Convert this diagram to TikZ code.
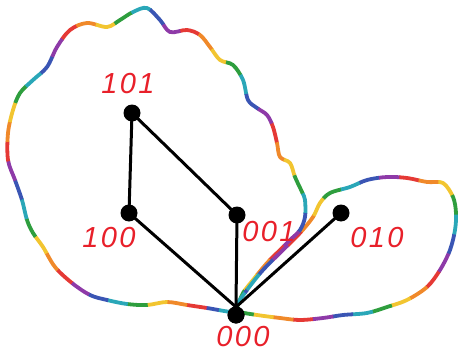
\documentclass[tikz,border=0pt]{standalone}
\usepackage{fontspec}
\setmainfont{Liberation Sans}
\newfontfamily\handfont{Liberation Sans}[LetterSpace=8]
\definecolor{cR}{HTML}{E53935}
\definecolor{cO}{HTML}{F0892A}
\definecolor{cY}{HTML}{F2C530}
\definecolor{cG}{HTML}{2E9E3E}
\definecolor{cT}{HTML}{2AA7B8}
\definecolor{cB}{HTML}{3A55B4}
\definecolor{cP}{HTML}{8E3AA8}
\definecolor{labred}{HTML}{E8202A}
\begin{document}
\begin{tikzpicture}[x=1pt,y=-1pt,
  dot/.style={circle,fill=black,inner sep=0pt,minimum size=17pt},
  edge/.style={line width=3pt},
  lab/.style={text=labred,font=\handfont\itshape\fontsize{29}{29}\selectfont},
  rainbow/.style={line width=3.8pt,line cap=butt,line join=round}]
\useasboundingbox (0,0) rectangle (458,353);
\foreach \c [count=\i from 0] in {cR,cO,cY,cG,cT,cB,cP}{
  \pgfmathsetmacro{\ph}{140-20*\i}
  \draw[rainbow,color=\c,dash pattern=on 20.5pt off 119.5pt,dash phase=\ph pt]
    plot[smooth cycle,tension=0.55] coordinates {
    (233,312) (207,308) (187,305) (167,302) (147,305) (127,304) (107,300)
    (90,295) (72,283) (55,267) (43,247) (33,233) (27,220) (22,200) (15,180)
    (8,160) (8,133) (13,110) (20,93) (33,80) (47,67) (57,47) (70,30) (87,23)
    (107,27) (120,20) (133,12) (147,8) (160,20) (170,32) (187,30) (200,35)
    (210,47) (220,60) (233,65) (243,80) (248,100) (257,108) (267,115)
    (273,127) (277,143) (280,157) (290,163) (295,177) (302,192) (305,200)
    (305,217) (300,230) (290,240) (280,250) (267,263) (253,280) (243,293)
    (237,307)};
  \pgfmathsetmacro{\phb}{140-20*mod(\i+3,7)}
  \draw[rainbow,color=\c,dash pattern=on 20.5pt off 119.5pt,dash phase=\phb pt]
    plot[smooth cycle,tension=0.55] coordinates {
    (235,308) (247,290) (263,270) (283,250) (300,233) (313,217) (320,203)
    (330,193) (350,187) (367,180) (387,177) (407,178) (427,182) (443,183)
    (453,197) (456,213) (455,230) (450,250) (440,270) (427,287) (407,300)
    (387,307) (367,313) (343,315) (323,318) (300,320) (280,318) (257,315)
    (240,312)};
}
\node[dot] (n101) at (132,113) {};
\node[dot] (n100) at (129,213) {};
\node[dot] (n001) at (237,215) {};
\node[dot] (n010) at (341,213) {};
\node[dot] (n000) at (236,315) {};
\coordinate (m) at (236,307);
\draw[edge] (n101.center) -- (n100.center);
\draw[edge] (n101.center) -- (n001.center);
\draw[edge] (n100.center) -- (m);
\draw[edge] (n001.center) -- (m);
\draw[edge] (n010.center) -- (m);
\node[dot] at (n000) {};
\node[lab] (l101) at (128,84) {101};
\node[lab] (l100) at (109,238) {100};
\node[lab] (l001) at (269,232) {001};
\node[lab] (l010) at (377,238) {010};
\node[lab] (l000) at (243,337) {000};
\end{tikzpicture}
\end{document}
